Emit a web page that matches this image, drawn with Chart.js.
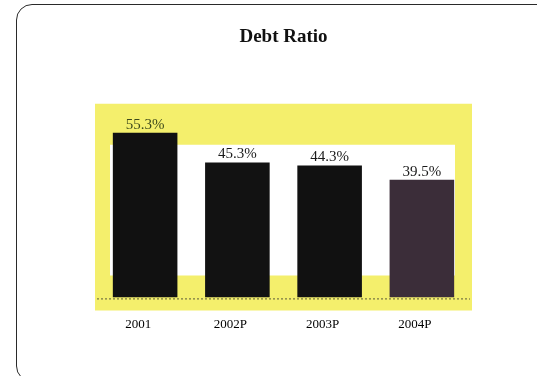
<!DOCTYPE html>
<html>
<head>
<meta charset="utf-8">
<script src="https://cdn.jsdelivr.net/npm/chart.js@4"></script>
<style>
  html, body { margin: 0; padding: 0; background: #fff; overflow: hidden; }
  body { width: 537px; height: 376px; position: relative; }
  .frame {
    position: absolute; left: 16px; top: 4px; width: 560px; height: 378px;
    border: 1.5px solid #2a2a2a; border-radius: 16px; box-sizing: border-box;
  }
  .wrap { position: absolute; left: 0; top: 0; width: 537px; height: 376px; }
</style>
</head>
<body>
<div class="frame"></div>
<div class="wrap"><canvas id="c" width="537" height="376"></canvas></div>
<script>
const categories = ['2001', '2002P', '2003P', '2004P'];
const debtRatio = [55.3, 45.3, 44.3, 39.5];
const valueLabels = ['55.3%', '45.3%', '44.3%', '39.5%'];
const barColors = ['#111111', '#121212', '#111111', '#3b2d39'];
const labelColors = ['#3e4a1c', '#1a1a1a', '#1a1a1a', '#1a1a1a'];

// Yellow highlighter band drawn around the plot area, behind the bars
const highlighter = {
  id: 'highlighter',
  beforeDatasetsDraw(chart) {
    const { ctx, chartArea: a } = chart;
    const outer = { l: a.left - 4, t: a.top, r: a.right + 4, b: a.bottom + 13 };
    const inner = { l: a.left + 11, t: a.top + 41, r: a.right - 13, b: a.bottom - 22 };
    ctx.save();
    ctx.fillStyle = '#f4ef6c';
    ctx.beginPath();
    ctx.rect(outer.l, outer.t, outer.r - outer.l, outer.b - outer.t);
    ctx.rect(inner.r, inner.t, inner.l - inner.r, inner.b - inner.t);
    ctx.fill('evenodd');
    // dotted floor line along the base of the bars
    ctx.strokeStyle = '#5a5a3a';
    ctx.lineWidth = 1;
    ctx.setLineDash([2, 2]);
    ctx.beginPath();
    ctx.moveTo(a.left - 2, a.bottom + 1.5);
    ctx.lineTo(a.right + 2, a.bottom + 1.5);
    ctx.stroke();
    ctx.restore();
  }
};

// Percentage labels above each bar
const valueTags = {
  id: 'valueTags',
  afterDatasetsDraw(chart) {
    const { ctx } = chart;
    const meta = chart.getDatasetMeta(0);
    ctx.save();
    ctx.font = '15px "Liberation Serif", "Times New Roman", serif';
    ctx.textAlign = 'center';
    ctx.textBaseline = 'alphabetic';
    meta.data.forEach((bar, i) => {
      ctx.fillStyle = labelColors[i];
      ctx.fillText(valueLabels[i], bar.x, bar.y - 4);
    });
    ctx.restore();
  }
};

new Chart(document.getElementById('c'), {
  type: 'bar',
  data: {
    labels: categories,
    datasets: [{
      data: debtRatio,
      backgroundColor: barColors,
      borderWidth: 0,
      categoryPercentage: 1.0,
      barPercentage: 0.7
    }]
  },
  options: {
    responsive: false,
    animation: false,
    devicePixelRatio: 1,
    layout: { padding: { left: 99, right: 69, top: 0, bottom: 25 } },
    plugins: {
      legend: { display: false },
      tooltip: { enabled: false },
      title: {
        display: true,
        text: 'Debt Ratio',
        color: '#111',
        font: { family: '"Liberation Serif", "Times New Roman", serif', size: 19, weight: 'bold' },
        padding: { top: 26, bottom: 55 }
      }
    },
    scales: {
      x: {
        grid: { display: false, drawTicks: false },
        border: { display: false },
        ticks: {
          color: '#000',
          padding: 19,
          labelOffset: -7,
          font: { family: '"Liberation Serif", "Times New Roman", serif', size: 13 }
        }
      },
      y: {
        display: false,
        min: 0,
        max: 65
      }
    }
  },
  plugins: [highlighter, valueTags]
});
</script>
</body>
</html>
